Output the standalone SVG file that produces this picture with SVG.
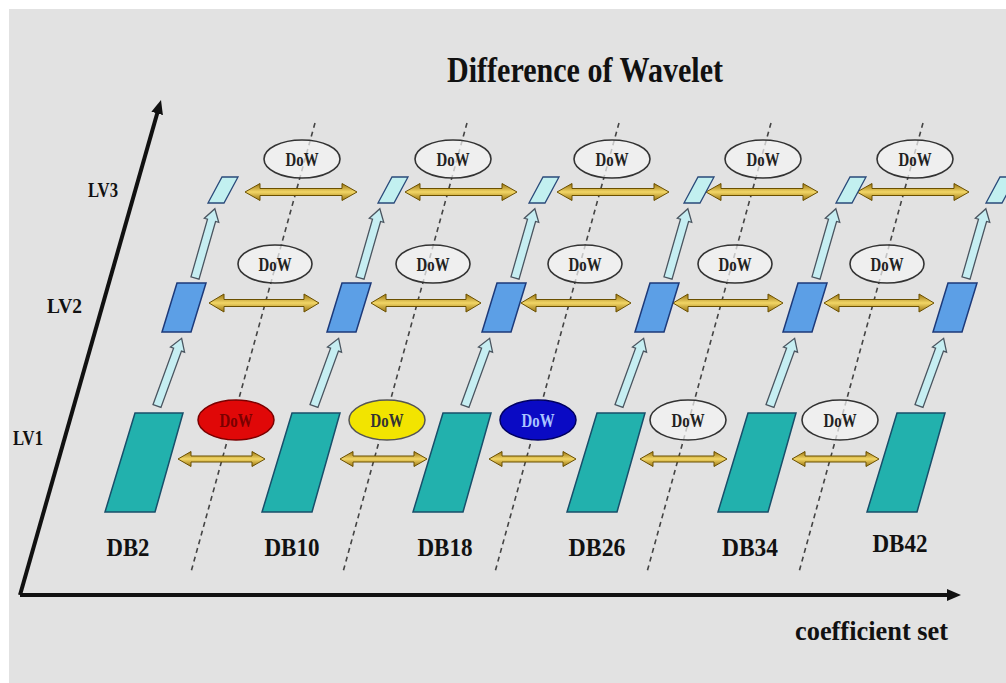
<svg xmlns="http://www.w3.org/2000/svg" xmlns:xlink="http://www.w3.org/1999/xlink" width="1006" height="683" viewBox="0 0 1006 683">
<style>
.t{font-family:"Liberation Serif","Times New Roman",serif;font-weight:bold;fill:#111}
.dow{font-family:"Liberation Serif","Times New Roman",serif;font-weight:bold;font-size:19px;text-anchor:middle}
.axis{stroke:#111;stroke-width:4;fill:none}
.dash{stroke:#444;stroke-width:1.6;stroke-dasharray:5 4;fill:none}
.gold{fill:url(#gg);stroke:#6b5000;stroke-width:1}
.har{fill:#c6eef2;stroke:#4a5560;stroke-width:1.3}
.p1{fill:#22b1ad;stroke:#184f6a;stroke-width:1.5}
.p2{fill:#5c9fe6;stroke:#1d3a7a;stroke-width:1.5}
.p3{fill:#c2f0f0;stroke:#2a4a7a;stroke-width:1.3}
.ew{fill:#f4f4f4;fill-opacity:0.72;stroke:#333;stroke-width:1.6}
</style>
<defs>
<linearGradient id="gg" x1="0" y1="0" x2="0" y2="1">
<stop offset="0" stop-color="#9a7410"/>
<stop offset="0.5" stop-color="#f2d666"/>
<stop offset="1" stop-color="#9a7410"/>
</linearGradient>
<marker id="ah" viewBox="0 0 14 12" refX="6" refY="6" markerWidth="14" markerHeight="12" markerUnits="userSpaceOnUse" orient="auto">
<path d="M0,0 L14,6 L0,12 z" fill="#111"/>
</marker>
<path id="dl" d="M0,0 L15,-8.5 L15,-3.5 L97,-3.5 L97,-8.5 L112,0 L97,8.5 L97,3.5 L15,3.5 L15,8.5 Z"/>
<path id="dm" d="M0,0 L15,-9 L15,-3.5 L95,-3.5 L95,-9 L110,0 L95,9 L95,3.5 L15,3.5 L15,9 Z"/>
<path id="ds" d="M0,0 L13,-7.5 L13,-3 L74,-3 L74,-7.5 L87,0 L74,7.5 L74,3 L13,3 L13,7.5 Z"/>
<path id="up" d="M0,-4.2 L60,-4.2 L60,-7.5 L72,0 L60,7.5 L60,4.2 L0,4.2 Z"/>
</defs>

<rect x="0" y="0" width="1006" height="683" fill="#ffffff"/>
<rect x="9" y="9" width="997" height="674" fill="#e2e2e2"/>

<g id="title"><text class="t" x="585" y="82" font-size="36" text-anchor="middle" textLength="276" lengthAdjust="spacingAndGlyphs">Difference of Wavelet</text></g>

<g id="axes">
<line class="axis" x1="20" y1="595" x2="953" y2="595" marker-end="url(#ah)"/>
<line class="axis" x1="20" y1="595" x2="158.8" y2="107.7" marker-end="url(#ah)"/>
<text class="t" x="795" y="640" font-size="28" textLength="153" lengthAdjust="spacingAndGlyphs">coefficient set</text>
<text class="t" x="88" y="197" font-size="20" textLength="30" lengthAdjust="spacingAndGlyphs">LV3</text>
<text class="t" x="47" y="313" font-size="20" textLength="35" lengthAdjust="spacingAndGlyphs">LV2</text>
<text class="t" x="13" y="445" font-size="20" textLength="30" lengthAdjust="spacingAndGlyphs">LV1</text>
</g>

<g id="connectors">
<g id="dashed">
<line class="dash" x1="315" y1="123" x2="191" y2="572"/>
<line class="dash" x1="467" y1="123" x2="343" y2="572"/>
<line class="dash" x1="619" y1="123" x2="495" y2="572"/>
<line class="dash" x1="771" y1="123" x2="647" y2="572"/>
<line class="dash" x1="923" y1="123" x2="799" y2="572"/>
</g>
<g id="lv3-links">
<use href="#dl" class="gold" x="245" y="192"/>
<use href="#dl" class="gold" x="405" y="192"/>
<use href="#dl" class="gold" x="557" y="192"/>
<use href="#dl" class="gold" x="706" y="192"/>
<use href="#dl" class="gold" x="857" y="192"/>
</g>
<g id="lv2-links">
<use href="#dm" class="gold" x="209" y="303"/>
<use href="#dm" class="gold" x="371" y="303"/>
<use href="#dm" class="gold" x="521" y="303"/>
<use href="#dm" class="gold" x="673" y="303"/>
<use href="#dm" class="gold" x="824" y="303"/>
</g>
<g id="lv1-links">
<use href="#ds" class="gold" x="178" y="459"/>
<use href="#ds" class="gold" x="340" y="459"/>
<use href="#ds" class="gold" x="489" y="459"/>
<use href="#ds" class="gold" x="640" y="459"/>
<use href="#ds" class="gold" x="792" y="459"/>
</g>
<g id="up-1-2">
<use href="#up" class="har" transform="translate(157,406) rotate(-70)"/>
<use href="#up" class="har" transform="translate(314,406) rotate(-70)"/>
<use href="#up" class="har" transform="translate(465,406) rotate(-70)"/>
<use href="#up" class="har" transform="translate(619,406) rotate(-70)"/>
<use href="#up" class="har" transform="translate(770,406) rotate(-70)"/>
<use href="#up" class="har" transform="translate(919,406) rotate(-70)"/>
</g>
<g id="up-2-3">
<use href="#up" class="har" transform="translate(195,278) rotate(-74)"/>
<use href="#up" class="har" transform="translate(360,278) rotate(-74)"/>
<use href="#up" class="har" transform="translate(515,278) rotate(-74)"/>
<use href="#up" class="har" transform="translate(668,278) rotate(-74)"/>
<use href="#up" class="har" transform="translate(816,278) rotate(-74)"/>
<use href="#up" class="har" transform="translate(966,278) rotate(-74)"/>
</g>
</g>

<g id="nodes">
<g id="db2"><path class="p1" d="M135,413 L183,413 L155,512 L105,512 Z"/><text class="t" x="128" y="556" font-size="26" text-anchor="middle" textLength="43" lengthAdjust="spacingAndGlyphs">DB2</text></g>
<g id="db10"><path class="p1" d="M292,413 L340,413 L312,512 L262,512 Z"/><text class="t" x="292" y="556" font-size="26" text-anchor="middle" textLength="55" lengthAdjust="spacingAndGlyphs">DB10</text></g>
<g id="db18"><path class="p1" d="M443,413 L491,413 L463,512 L413,512 Z"/><text class="t" x="445" y="556" font-size="26" text-anchor="middle" textLength="55" lengthAdjust="spacingAndGlyphs">DB18</text></g>
<g id="db26"><path class="p1" d="M597,413 L645,413 L617,512 L567,512 Z"/><text class="t" x="597" y="556" font-size="26" text-anchor="middle" textLength="57" lengthAdjust="spacingAndGlyphs">DB26</text></g>
<g id="db34"><path class="p1" d="M748,413 L796,413 L768,512 L718,512 Z"/><text class="t" x="750" y="556" font-size="26" text-anchor="middle" textLength="56" lengthAdjust="spacingAndGlyphs">DB34</text></g>
<g id="db42"><path class="p1" d="M897,413 L945,413 L917,512 L867,512 Z"/><text class="t" x="900" y="552" font-size="26" text-anchor="middle" textLength="55" lengthAdjust="spacingAndGlyphs">DB42</text></g>

<g id="lv2-boxes">
<path class="p2" d="M177,283 L206,283 L191,332 L162,332 Z"/>
<path class="p2" d="M342,283 L371,283 L356,332 L327,332 Z"/>
<path class="p2" d="M497,283 L526,283 L511,332 L482,332 Z"/>
<path class="p2" d="M650,283 L679,283 L664,332 L635,332 Z"/>
<path class="p2" d="M798,283 L827,283 L812,332 L783,332 Z"/>
<path class="p2" d="M948,283 L977,283 L962,332 L933,332 Z"/>
</g>
<g id="lv3-boxes">
<path class="p3" d="M222,177 L238,177 L224,203 L208,203 Z"/>
<path class="p3" d="M392,177 L408,177 L394,203 L378,203 Z"/>
<path class="p3" d="M543,177 L559,177 L545,203 L529,203 Z"/>
<path class="p3" d="M698,177 L714,177 L700,203 L684,203 Z"/>
<path class="p3" d="M850,177 L866,177 L852,203 L836,203 Z"/>
<path class="p3" d="M1000,177 L1016,177 L1002,203 L986,203 Z"/>
</g>

<g id="dow-lv3">
<ellipse class="ew" cx="302" cy="159" rx="38" ry="19"/><text class="dow" x="302" y="166" fill="#222" textLength="33" lengthAdjust="spacingAndGlyphs">DoW</text>
<ellipse class="ew" cx="453" cy="159" rx="38" ry="19"/><text class="dow" x="453" y="166" fill="#222" textLength="33" lengthAdjust="spacingAndGlyphs">DoW</text>
<ellipse class="ew" cx="612" cy="159" rx="38" ry="19"/><text class="dow" x="612" y="166" fill="#222" textLength="33" lengthAdjust="spacingAndGlyphs">DoW</text>
<ellipse class="ew" cx="763" cy="159" rx="38" ry="19"/><text class="dow" x="763" y="166" fill="#222" textLength="33" lengthAdjust="spacingAndGlyphs">DoW</text>
<ellipse class="ew" cx="915" cy="159" rx="38" ry="19"/><text class="dow" x="915" y="166" fill="#222" textLength="33" lengthAdjust="spacingAndGlyphs">DoW</text>
</g>
<g id="dow-lv2">
<ellipse class="ew" cx="275" cy="264" rx="37" ry="19"/><text class="dow" x="275" y="271" fill="#222" textLength="33" lengthAdjust="spacingAndGlyphs">DoW</text>
<ellipse class="ew" cx="433" cy="264" rx="37" ry="19"/><text class="dow" x="433" y="271" fill="#222" textLength="33" lengthAdjust="spacingAndGlyphs">DoW</text>
<ellipse class="ew" cx="585" cy="264" rx="37" ry="19"/><text class="dow" x="585" y="271" fill="#222" textLength="33" lengthAdjust="spacingAndGlyphs">DoW</text>
<ellipse class="ew" cx="735" cy="264" rx="37" ry="19"/><text class="dow" x="735" y="271" fill="#222" textLength="33" lengthAdjust="spacingAndGlyphs">DoW</text>
<ellipse class="ew" cx="887" cy="264" rx="37" ry="19"/><text class="dow" x="887" y="271" fill="#222" textLength="33" lengthAdjust="spacingAndGlyphs">DoW</text>
</g>
<g id="dow-lv1">
<ellipse cx="236" cy="420" rx="38" ry="20" fill="#e00808" stroke="#7a0000" stroke-width="1.5"/><text class="dow" x="236" y="427" fill="#7a0000" textLength="33" lengthAdjust="spacingAndGlyphs">DoW</text>
<ellipse cx="387" cy="420" rx="38" ry="20" fill="#f2e400" stroke="#555" stroke-width="1.5"/><text class="dow" x="387" y="427" fill="#333" textLength="33" lengthAdjust="spacingAndGlyphs">DoW</text>
<ellipse cx="538" cy="420" rx="38" ry="20" fill="#0a0ac4" stroke="#000060" stroke-width="1.5"/><text class="dow" x="538" y="427" fill="#a9c4ff" textLength="33" lengthAdjust="spacingAndGlyphs">DoW</text>
<ellipse class="ew" cx="688" cy="420" rx="38" ry="20"/><text class="dow" x="688" y="427" fill="#222" textLength="33" lengthAdjust="spacingAndGlyphs">DoW</text>
<ellipse class="ew" cx="840" cy="420" rx="38" ry="20"/><text class="dow" x="840" y="427" fill="#222" textLength="33" lengthAdjust="spacingAndGlyphs">DoW</text>
</g>
</g>
</svg>
